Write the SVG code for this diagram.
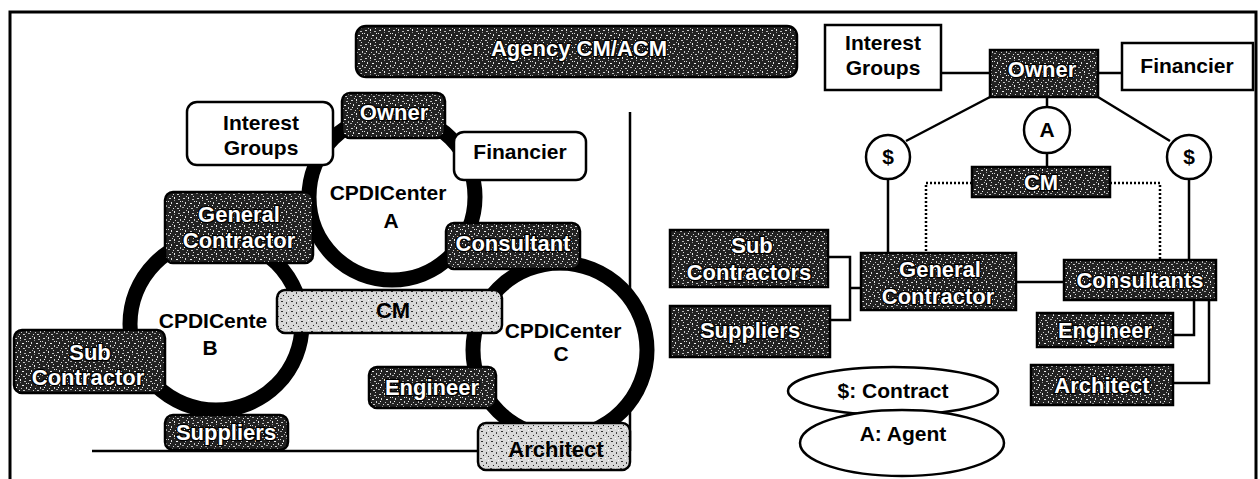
<svg xmlns="http://www.w3.org/2000/svg" width="1260" height="479" viewBox="0 0 1260 479">
<defs>
<pattern id="noiseDark" width="14" height="14" patternUnits="userSpaceOnUse">
<rect width="14" height="14" fill="#222"/>
<rect x="1" y="2" width="2" height="1" fill="#d0d0d0"/>
<rect x="6" y="1" width="1" height="2" fill="#eee"/>
<rect x="10" y="3" width="2" height="1" fill="#bbb"/>
<rect x="3" y="6" width="1" height="2" fill="#ddd"/>
<rect x="8" y="7" width="2" height="1" fill="#f2f2f2"/>
<rect x="12" y="9" width="1" height="2" fill="#ccc"/>
<rect x="0" y="11" width="2" height="1" fill="#aaa"/>
<rect x="5" y="12" width="1" height="1" fill="#e0e0e0"/>
<rect x="9" y="12" width="2" height="1" fill="#c8c8c8"/>
<rect x="6" y="4" width="1" height="1" fill="#999"/>
<rect x="2" y="9" width="1" height="1" fill="#fff"/>
<rect x="11" y="0" width="1" height="1" fill="#ddd"/>
<rect x="4" y="0" width="1" height="1" fill="#bbb"/>
<rect x="12" y="5" width="1" height="1" fill="#eee"/>
<rect x="7" y="10" width="1" height="1" fill="#ccc"/>
<rect x="0" y="5" width="1" height="1" fill="#ddd"/>
</pattern>
<pattern id="noiseLight" width="10" height="10" patternUnits="userSpaceOnUse">
<rect width="10" height="10" fill="#d8d8d8"/>
<rect x="1" y="1" width="2" height="1" fill="#333"/>
<rect x="6" y="2" width="1" height="2" fill="#444"/>
<rect x="3" y="5" width="1" height="1" fill="#222"/>
<rect x="8" y="6" width="1" height="1" fill="#333"/>
<rect x="0" y="8" width="2" height="1" fill="#555"/>
<rect x="5" y="8" width="1" height="1" fill="#fff"/>
<rect x="8" y="0" width="1" height="1" fill="#fff"/>
</pattern>
<style>
.border{fill:none;stroke:#000;stroke-width:3}
.ln{fill:none;stroke:#000;stroke-width:2.5}
.dot{fill:none;stroke:#000;stroke-width:2.5;stroke-dasharray:2 2}
.ring{fill:#fff;stroke:#000;stroke-width:15}
.wbox{fill:#fff;stroke:#000;stroke-width:2.5}
.dbox{fill:url(#noiseDark);stroke:#000;stroke-width:2.5}
.lbox{fill:url(#noiseLight);stroke:#000;stroke-width:2.5}
.circ{fill:#fff;stroke:#000;stroke-width:2.5}
.t{font-family:"Liberation Sans",Arial,sans-serif;font-weight:bold;font-size:21px;fill:#000;text-anchor:middle}
.tw{font-family:"Liberation Sans",Arial,sans-serif;font-weight:bold;font-size:22px;fill:#fff;stroke:#000;stroke-width:2.5;paint-order:stroke;text-anchor:middle}
.tl{font-family:"Liberation Sans",Arial,sans-serif;font-weight:bold;font-size:22px;fill:#000;text-anchor:middle}
</style>
</defs>
<rect width="1260" height="479" fill="#fff"/>
<path class="border" d="M10 479V12H1256V479"/>

<g id="title"><rect class="dbox" x="356" y="26" width="441" height="51" rx="10"/><text class="tw" x="579" y="56" font-size="24">Agency CM/ACM</text></g>

<!-- left diagram -->
<g id="frame-lines"><path class="ln" d="M630 112V451M92 451H630"/></g>
<g id="circleA"><circle class="ring" cx="392" cy="197" r="83"/><text class="t" x="388" y="200">CPDICenter</text><text class="t" x="391" y="228">A</text></g>
<g id="circleB"><circle class="ring" cx="216" cy="324" r="86"/><text class="t" x="213" y="328">CPDICente</text><text class="t" x="210" y="355">B</text></g>
<g id="circleC"><circle class="ring" cx="560" cy="350" r="87"/><text class="t" x="563" y="338">CPDICenter</text><text class="t" x="561" y="361">C</text></g>
<g id="L-interest"><rect class="wbox" x="187" y="102" width="146" height="63" rx="10"/><text class="t" x="261" y="130">Interest</text><text class="t" x="261" y="155">Groups</text></g>
<g id="L-owner"><rect class="dbox" x="342" y="93" width="103" height="45" rx="8"/><text class="tw" x="394" y="120">Owner</text></g>
<g id="L-financier"><rect class="wbox" x="454" y="132" width="132" height="48" rx="10"/><text class="t" x="520" y="159">Financier</text></g>
<g id="L-gc"><rect class="dbox" x="165" y="192" width="148" height="71" rx="8"/><text class="tw" x="239" y="222">General</text><text class="tw" x="239" y="248">Contractor</text></g>
<g id="L-consultant"><rect class="dbox" x="446" y="223" width="134" height="46" rx="8"/><text class="tw" x="513" y="251">Consultant</text></g>
<g id="L-cm"><rect class="lbox" x="277" y="290" width="225" height="43" rx="8"/><text class="tl" x="393" y="318">CM</text></g>
<g id="L-sub"><rect class="dbox" x="14" y="330" width="151" height="63" rx="8"/><text class="tw" x="90" y="360">Sub</text><text class="tw" x="88" y="385">Contractor</text></g>
<g id="L-suppliers"><rect class="dbox" x="165" y="415" width="123" height="35" rx="8"/><text class="tw" x="226" y="440">Suppliers</text></g>
<g id="L-engineer"><rect class="dbox" x="369" y="367" width="127" height="41" rx="8"/><text class="tw" x="432" y="395">Engineer</text></g>
<g id="L-architect"><rect class="lbox" x="478" y="423" width="152" height="47" rx="8"/><text class="tl" x="556" y="457">Architect</text></g>

<!-- right diagram connectors -->
<g id="connectors">
<path class="ln" d="M941 73H990M1098 73H1122"/>
<path class="ln" d="M990 97L906 141M1098 97L1170 141M1047 97V107M1047 153V167"/>
<path class="ln" d="M888 179V253M1189 179V260"/>
<path class="dot" d="M972 183H926V253M1110 183H1160V260"/>
<path class="ln" d="M828 257H850V320H830M850 288H861M1016 282H1064"/>
<path class="ln" d="M1194 300V335H1173M1209 300V383H1173"/>
</g>
<g id="R-interest"><rect class="wbox" x="825" y="25" width="116" height="65"/><text class="t" x="883" y="50">Interest</text><text class="t" x="883" y="75">Groups</text></g>
<g id="R-owner"><rect class="dbox" x="990" y="50" width="108" height="47"/><text class="tw" x="1042" y="77">Owner</text></g>
<g id="R-financier"><rect class="wbox" x="1122" y="43" width="131" height="47"/><text class="t" x="1187" y="73">Financier</text></g>
<g id="R-s1"><circle class="circ" cx="888" cy="157" r="22"/><text class="t" x="888" y="164">$</text></g>
<g id="R-a"><circle class="circ" cx="1047" cy="130" r="23"/><text class="t" x="1047" y="137">A</text></g>
<g id="R-s2"><circle class="circ" cx="1189" cy="157" r="22"/><text class="t" x="1189" y="164">$</text></g>
<g id="R-cm"><rect class="dbox" x="972" y="167" width="138" height="30"/><text class="tw" x="1041" y="190">CM</text></g>
<g id="R-sub"><rect class="dbox" x="670" y="230" width="158" height="57"/><text class="tw" x="752" y="253">Sub</text><text class="tw" x="749" y="280">Contractors</text></g>
<g id="R-suppliers"><rect class="dbox" x="670" y="306" width="160" height="51"/><text class="tw" x="750" y="338">Suppliers</text></g>
<g id="R-gc"><rect class="dbox" x="861" y="253" width="155" height="57"/><text class="tw" x="940" y="277">General</text><text class="tw" x="938" y="304">Contractor</text></g>
<g id="R-consultants"><rect class="dbox" x="1064" y="260" width="152" height="40"/><text class="tw" x="1140" y="288">Consultants</text></g>
<g id="R-engineer"><rect class="dbox" x="1037" y="313" width="136" height="34"/><text class="tw" x="1105" y="338">Engineer</text></g>
<g id="R-architect"><rect class="dbox" x="1031" y="365" width="142" height="40"/><text class="tw" x="1102" y="393">Architect</text></g>
<g id="legend-contract"><ellipse class="wbox" cx="893" cy="391" rx="105" ry="24"/><text class="t" x="893" y="398">$: Contract</text></g>
<g id="legend-agent"><ellipse class="wbox" cx="902" cy="443" rx="102" ry="33"/><text class="t" x="903" y="441">A: Agent</text></g>
</svg>
